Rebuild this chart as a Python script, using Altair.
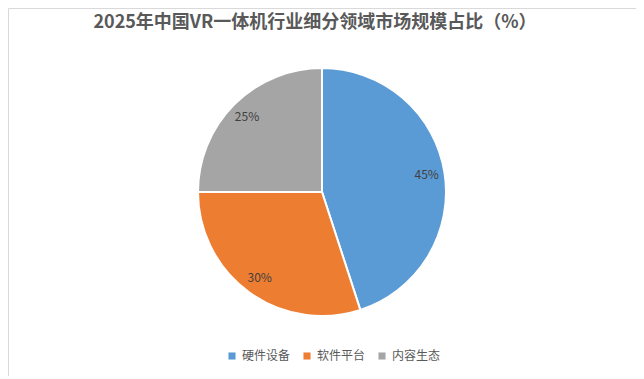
import altair as alt
import pandas as pd

categories = ["硬件设备", "软件平台", "内容生态"]
shares = [45, 30, 25]
label_texts = ["45%", "30%", "25%"]
colors = ["#5B9BD5", "#ED7D31", "#A5A5A5"]
title_text = "2025年中国VR一体机行业细分领域市场规模占比（%）"

df = pd.DataFrame({
    "category": categories,
    "share": shares,
    "label": label_texts,
    "idx": list(range(len(categories))),
})

FONT = "Noto Sans CJK SC"

base = alt.Chart(df).encode(
    theta=alt.Theta("share:Q", stack=True),
    order=alt.Order("idx:Q"),
)

color_enc = alt.Color(
    "category:N",
    scale=alt.Scale(domain=categories, range=colors),
    sort=categories,
    legend=alt.Legend(
        title=None,
        orient="none",
        direction="horizontal",
        legendX=218,
        legendY=342,
        symbolType="square",
        symbolSize=50,
        symbolStrokeWidth=0,
        labelFont=FONT,
        labelFontSize=12,
        labelColor="#595959",
        columnPadding=10,
        symbolOffset=0,
        labelOffset=4,
    ),
)

pie = base.mark_arc(outerRadius=124, stroke="white", strokeWidth=2).encode(color=color_enc)

labels = base.mark_text(radius=106, font=FONT, fontSize=12, color="#404040").encode(
    text="label:N"
)

title = alt.Chart(pd.DataFrame({"t": [title_text]})).mark_text(
    font=FONT, fontSize=18, fontWeight="bold", color="#595959", align="center", baseline="middle"
).encode(text="t:N", x=alt.value(307), y=alt.value(15))

chart = alt.layer(pie, labels, title).properties(
    width=628, height=368, padding=0,
    background="white",
).configure_view(stroke="#D9D9D9", strokeWidth=1)

chart.save("out.html", embed_options={"renderer": "svg", "actions": False})
